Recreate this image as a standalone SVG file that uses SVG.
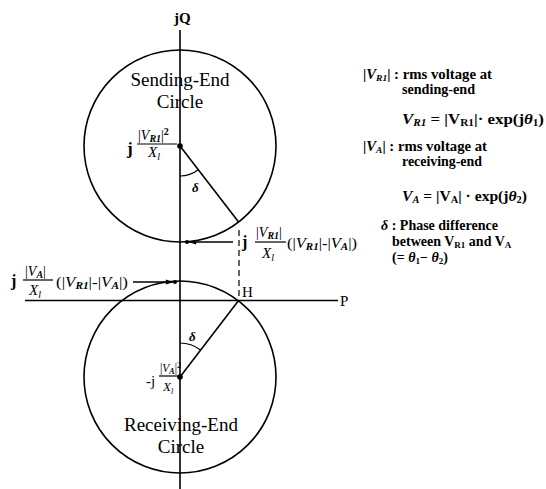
<svg xmlns="http://www.w3.org/2000/svg" width="546" height="489" viewBox="0 0 546 489">
<style>
text{font-family:"Liberation Serif","Times New Roman",serif;fill:#000}
.ln{stroke:#000;stroke-width:1.6;fill:none}
.thin{stroke:#000;stroke-width:1.2;fill:none}
.it{font-style:italic}
.b{font-weight:bold}
.lg{font-size:14px;font-weight:bold}
.fm{font-size:15px;font-weight:bold}
</style>
<defs>
<marker id="ah" viewBox="0 0 10 10" refX="9" refY="5" markerWidth="6" markerHeight="5" orient="auto">
<path d="M0,2 L10,5 L0,8 Z" fill="#000"/>
</marker>
</defs>
<rect width="546" height="489" fill="#fff"/>

<g id="axes">
<line class="ln" x1="180" y1="30" x2="180" y2="489"/>
<line class="ln" x1="25" y1="300.5" x2="338" y2="300.5"/>
<text x="174" y="23" font-size="15" class="b">jQ</text>
<text x="340" y="306" font-size="15">P</text>
</g>

<g id="sending-circle">
<circle class="ln" cx="180" cy="146" r="96"/>
<circle cx="180" cy="146" r="2.8" fill="#000"/>
<line class="ln" x1="180" y1="146" x2="238.6" y2="222"/>
<path class="thin" d="M180,176 A30,30 0 0 0 198.2,169.8"/>
<text x="192" y="192" font-size="13" class="it b">δ</text>
<text x="180" y="86" font-size="19" text-anchor="middle">Sending-End</text>
<text x="180" y="108" font-size="19" text-anchor="middle">Circle</text>
<text x="127" y="154" font-size="17" class="b">j</text>
<text x="138" y="140" font-size="14">|<tspan class="it">V</tspan><tspan class="it b" font-size="10" dy="2">R1</tspan><tspan dy="-2">|</tspan><tspan font-size="10" dy="-5" class="b">2</tspan></text>
<line class="thin" x1="137" y1="144" x2="177" y2="144"/>
<text x="148" y="157" font-size="15" class="it">X<tspan font-size="10" dy="3">l</tspan></text>
</g>

<g id="receiving-circle">
<circle class="ln" cx="180" cy="377" r="96"/>
<circle cx="180" cy="377" r="2.8" fill="#000"/>
<line class="ln" x1="180" y1="377" x2="238.6" y2="300.5"/>
<path class="thin" d="M180,343 A34,34 0 0 1 200.5,349.9"/>
<text x="189" y="341" font-size="13" class="it b">δ</text>
<text x="181" y="431" font-size="19" text-anchor="middle">Receiving-End</text>
<text x="181" y="453" font-size="19" text-anchor="middle">Circle</text>
<text x="146" y="386" font-size="15">-j</text>
<text x="160" y="372" font-size="11.5">|<tspan class="it">V</tspan><tspan class="it b" font-size="8" dy="2">A</tspan><tspan dy="-2">|</tspan><tspan font-size="8.5" dy="-4">2</tspan></text>
<line class="thin" x1="159" y1="376" x2="178" y2="376"/>
<text x="163" y="391" font-size="13" class="it">X<tspan font-size="8" dy="3">l</tspan></text>
</g>

<g id="H-point">
<text x="242" y="297" font-size="15">H</text>
</g>

<g id="connectors">
<line class="thin" x1="239" y1="230" x2="239" y2="300" stroke-dasharray="6,4"/>
<line class="ln" x1="233" y1="242" x2="189" y2="242" marker-end="url(#ah)"/>
<circle cx="187" cy="242" r="2" fill="#000"/>
<line class="ln" x1="133" y1="282" x2="173" y2="282" marker-end="url(#ah)"/>
<circle cx="175" cy="282" r="2" fill="#000"/>
</g>

<g id="label-sending">
<text x="242" y="247" font-size="16" class="b">j</text>
<text x="256" y="237" font-size="14">|<tspan class="it">V</tspan><tspan class="it b" font-size="10" dy="2">R1</tspan><tspan dy="-2">|</tspan></text>
<line class="thin" x1="255" y1="242" x2="286" y2="242"/>
<text x="262" y="258" font-size="15" class="it">X<tspan font-size="10" dy="3">l</tspan></text>
<text x="287" y="248" font-size="15" textLength="70" lengthAdjust="spacingAndGlyphs">(|<tspan class="it">V</tspan><tspan class="it b" font-size="10" dy="2">R1</tspan><tspan dy="-2">|-|</tspan><tspan class="it">V</tspan><tspan class="it b" font-size="10" dy="2">A</tspan><tspan dy="-2">|)</tspan></text>
</g>

<g id="label-receiving">
<text x="11" y="286" font-size="16" class="b">j</text>
<text x="25" y="276" font-size="14">|<tspan class="it">V</tspan><tspan class="it b" font-size="10" dy="2">A</tspan><tspan dy="-2">|</tspan></text>
<line class="thin" x1="23" y1="280" x2="53" y2="280"/>
<text x="29" y="295" font-size="15" class="it">X<tspan font-size="10" dy="3">l</tspan></text>
<text x="56" y="287" font-size="15" textLength="72" lengthAdjust="spacingAndGlyphs">(|<tspan class="it">V</tspan><tspan class="it b" font-size="10" dy="2">R1</tspan><tspan dy="-2">|-|</tspan><tspan class="it">V</tspan><tspan class="it b" font-size="10" dy="2">A</tspan><tspan dy="-2">|)</tspan></text>
</g>

<g id="legend">
<text x="363" y="79" class="lg" textLength="129" lengthAdjust="spacingAndGlyphs">|<tspan class="it">V</tspan><tspan font-size="9" dy="2" class="it">R1</tspan><tspan dy="-2">| : rms voltage at</tspan></text>
<text x="402" y="94" class="lg" textLength="73" lengthAdjust="spacingAndGlyphs">sending-end</text>
<text x="402" y="124" class="fm" textLength="142" lengthAdjust="spacingAndGlyphs"><tspan class="it">V</tspan><tspan font-size="10" dy="2" class="it">R1</tspan><tspan dy="-2"> = |V</tspan><tspan font-size="10" dy="2">R1</tspan><tspan dy="-2">|· exp(j</tspan><tspan class="it">θ</tspan><tspan font-size="10" dy="2">1</tspan><tspan dy="-2">)</tspan></text>
<text x="363" y="151" class="lg" textLength="124" lengthAdjust="spacingAndGlyphs">|<tspan class="it">V</tspan><tspan font-size="9" dy="2" class="it">A</tspan><tspan dy="-2">| : rms voltage at</tspan></text>
<text x="402" y="166" class="lg" textLength="80" lengthAdjust="spacingAndGlyphs">receiving-end</text>
<text x="402" y="201" class="fm" textLength="125" lengthAdjust="spacingAndGlyphs"><tspan class="it">V</tspan><tspan font-size="10" dy="2" class="it">A</tspan><tspan dy="-2"> = |V</tspan><tspan font-size="10" dy="2">A</tspan><tspan dy="-2">| · exp(j</tspan><tspan class="it">θ</tspan><tspan font-size="10" dy="2">2</tspan><tspan dy="-2">)</tspan></text>
<text x="381" y="230" class="lg"><tspan class="it">δ</tspan> : Phase difference</text>
<text x="392" y="246" class="lg">between V<tspan font-size="9" dy="2">R1</tspan><tspan dy="-2"> and V</tspan><tspan font-size="9" dy="2">A</tspan></text>
<text x="392" y="262" class="lg">(= <tspan class="it">θ</tspan><tspan font-size="9" dy="2">1</tspan><tspan dy="-2">− </tspan><tspan class="it">θ</tspan><tspan font-size="9" dy="2">2</tspan><tspan dy="-2">)</tspan></text>
</g>
</svg>
